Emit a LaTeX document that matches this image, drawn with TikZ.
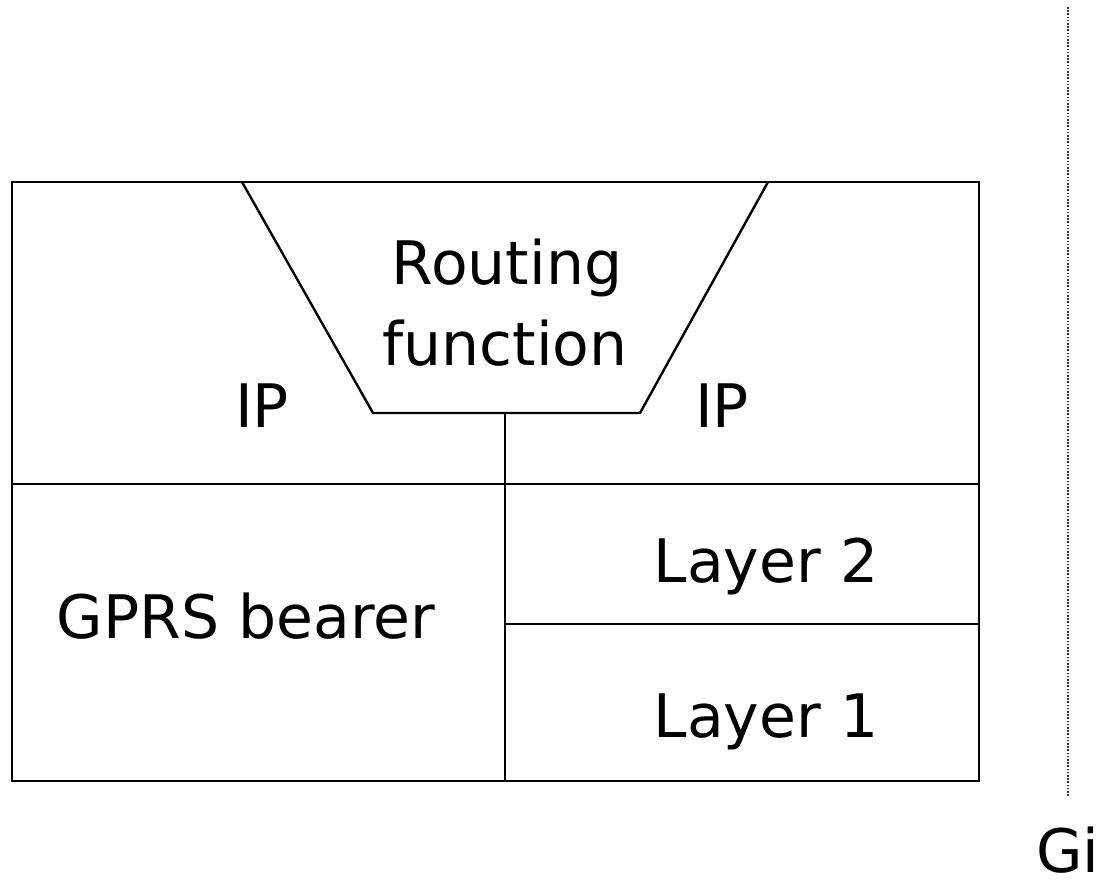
\documentclass[tikz,border=0pt]{standalone}
\usepackage{fontspec}
\setmainfont{DejaVu Sans}
\begin{document}
\begin{tikzpicture}[x=1pt,y=-1pt,
  frame/.style={line width=2.4pt,black},
  lbl/.style={inner sep=0pt,font=\fontsize{60}{72}\selectfont,anchor=base},
  ifline/.style={line width=1.6pt,black!80,dash pattern=on 1.6pt off 1.6pt}]
\useasboundingbox (0,0) rectangle (1099,882);
% outer frame
\coordinate (tl) at (12,182);
\coordinate (br) at (979,781);
\draw[frame] (tl) rectangle (br);
% routing function trapezoid
\coordinate (rtl) at (242,182);
\coordinate (rbl) at (373,413);
\coordinate (rbr) at (640,413);
\coordinate (rtr) at (768,182);
\draw[frame,line join=round] (rtl) -- (rbl) -- (rbr) -- (rtr);
% internal separators
\coordinate (mid) at (505,413);
\coordinate (midb) at (505,781);
\draw[frame] (mid) -- (midb);
\draw[frame] (12,484) -- (979,484);
\draw[frame] (505,624) -- (979,624);
% Gi interface line
\coordinate (gitop) at (1068,7);
\coordinate (gibot) at (1068,797);
\draw[ifline] (gitop) -- (gibot);
% labels
\node[lbl] (routing) at (507,285) {Routing};
\node[lbl] (function) at (505,365) {function};
\node[lbl] (ipl) at (262,427) {IP};
\node[lbl] (ipr) at (722,427) {IP};
\node[lbl] (l2) at (766,582) {Layer 2};
\node[lbl] (gprs) at (246,638) {GPRS bearer};
\node[lbl] (l1) at (766,737) {Layer 1};
\node[lbl,anchor=base west] (gi) at (1036,872) {Gi};
\end{tikzpicture}
\end{document}
